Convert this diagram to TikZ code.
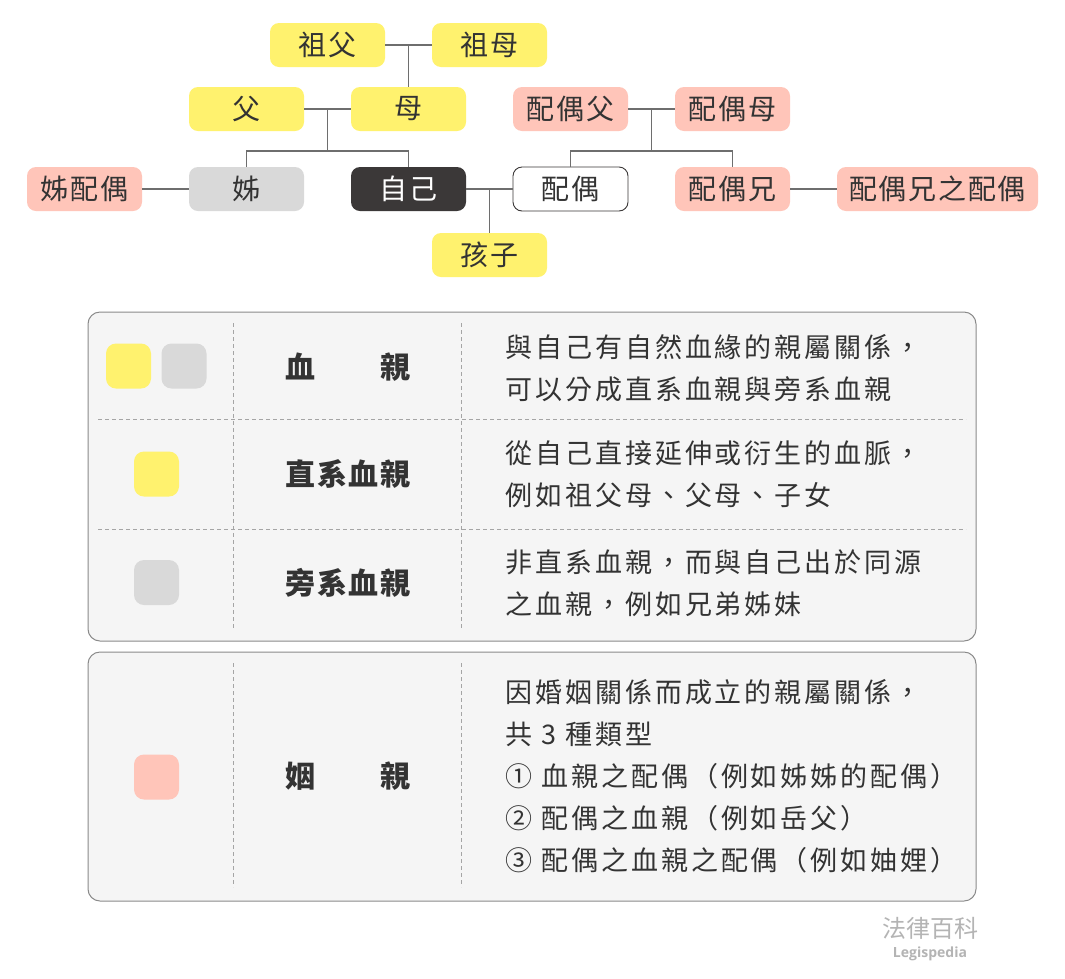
\documentclass[tikz,border=0pt]{standalone}
\usepackage{fontspec}
\usetikzlibrary{calc}
\setmainfont{Noto Sans CJK TC}
\newfontfamily\treefont[LetterSpace=6]{Noto Sans CJK TC}
\newfontfamily\descfont[LetterSpace=11]{Noto Sans CJK TC}
\newfontfamily\labfont[LetterSpace=6]{Noto Sans CJK TC}
\newfontfamily\logolat{Open Sans}
\definecolor{yelc}{HTML}{FFF26E}
\definecolor{salc}{HTML}{FFC5B9}
\definecolor{gryc}{HTML}{D9D9D9}
\definecolor{drkc}{HTML}{3B3838}
\definecolor{txtc}{HTML}{333333}
\definecolor{panelfill}{HTML}{F5F5F5}
\definecolor{panelline}{HTML}{8A8A8A}
\definecolor{dashc}{HTML}{A5A5A5}
\definecolor{connc}{HTML}{6E6E6E}
\definecolor{logoc}{HTML}{B4B4B4}
\tikzset{
  box/.style={rounded corners=9pt, minimum width=115pt, minimum height=44pt, inner sep=0pt,
    font=\treefont\fontsize{28}{28}\selectfont, text=txtc},
  yel/.style={box, fill=yelc},
  sal/.style={box, fill=salc},
  gry/.style={box, fill=gryc},
  drk/.style={box, fill=drkc, text=white},
  wht/.style={box, fill=white, draw=drkc, line width=0.9pt},
  conn/.style={draw=connc, line width=1.3pt},
  panel/.style={draw=panelline, fill=panelfill, line width=1pt, rounded corners=12pt},
  dl/.style={draw=dashc, line width=1pt, dash pattern=on 4pt off 3pt},
  sw/.style={minimum width=45pt, minimum height=45pt, inner sep=0pt, rounded corners=10pt},
  lab/.style={inner sep=0pt, text=txtc, font=\labfont\bfseries\fontsize{30}{30}\selectfont},
  desc/.style={anchor=west, inner sep=0pt, align=left, text=txtc, font=\descfont\fontsize{27}{42}\selectfont}
}
\begin{document}
\begin{tikzpicture}[x=1pt,y=-1pt]
\useasboundingbox (0,0) rectangle (1065,978);
\fill[white] (0,0) rectangle (1065,978);
% tree nodes
\node[yel] (gf) at (327.5,45) {祖父};
\node[yel] (gm) at (489.5,45) {祖母};
\node[yel] (fa) at (246.5,109) {父};
\node[yel] (mo) at (408.5,109) {母};
\node[sal] (sf) at (570.5,109) {配偶父};
\node[sal] (sm) at (732.5,109) {配偶母};
\node[sal] (ssp) at (84.5,189) {姊配偶};
\node[gry] (sis) at (246.5,189) {姊};
\node[drk] (me) at (408.5,189) {自己};
\node[wht] (sp) at (570.5,189) {配偶};
\node[sal] (sb) at (732.5,189) {配偶兄};
\node[sal, minimum width=201pt] (sbs) at (937.5,189) {配偶兄之配偶};
\node[yel] (ch) at (489.5,255) {孩子};
% junction coordinates
\coordinate (gj) at (408.5,45);
\coordinate (pj) at (327.5,109);
\coordinate (pbar) at (327.5,151);
\coordinate (sj) at (651.5,109);
\coordinate (sbar) at (651.5,151);
\coordinate (cj) at (489.5,189);
% connectors
\draw[conn] (gf.east) -- (gm.west);
\draw[conn] (gj) -- (mo.north);
\draw[conn] (fa.east) -- (mo.west);
\draw[conn] (pj) -- (pbar);
\draw[conn] (sis.north) |- (pbar) -| (me.north);
\draw[conn] (sf.east) -- (sm.west);
\draw[conn] (sj) -- (sbar);
\draw[conn] (sp.north) |- (sbar) -| (sb.north);
\draw[conn] (me.east) -- (sp.west);
\draw[conn] (cj) -- (ch.north);
\draw[conn] (ssp.east) -- (sis.west);
\draw[conn] (sb.east) -- (sbs.west);
% panel 1
\path[panel] (88,312) rectangle (976,641);
\draw[dl] (233,323) -- (233,628);
\draw[dl] (461,323) -- (461,628);
\draw[dl] (98,419) -- (966,419);
\draw[dl] (98,529) -- (966,529);
\node[sw, fill=yelc] (s1a) at (128.5,366) {};
\node[sw, fill=gryc] (s1b) at (184,366) {};
\node[sw, fill=yelc] (s2) at (156.5,474) {};
\node[sw, fill=gryc] (s3) at (156.5,582.5) {};
\node[lab] (l1) at (348,367) {血　　親};
\node[lab] (l2) at (348,474) {直系血親};
\node[lab] (l3) at (348,583) {旁系血親};
\node[desc] (d1) at (505,368) {與自己有自然血緣的親屬關係，\\可以分成直系血親與旁系血親};
\node[desc] (d2) at (505,474) {從自己直接延伸或衍生的血脈，\\例如祖父母、父母、子女};
\node[desc] (d3) at (505,583) {非直系血親，而與自己出於同源\\之血親，例如兄弟姊妹};
% panel 2
\path[panel] (88,652) rectangle (976,901);
\draw[dl] (233,663) -- (233,887);
\draw[dl] (461,663) -- (461,887);
\node[sw, fill=salc] (s4) at (156.5,777) {};
\node[lab] (l4) at (348,776) {姻　　親};
\node[desc] (d4) at (505,776) {因婚姻關係而成立的親屬關係，\\共 3 種類型\\① 血親之配偶（例如姊姊的配偶）\\② 配偶之血親（例如岳父）\\③ 配偶之血親之配偶（例如妯娌）};
% logo
\node[text=logoc, inner sep=0pt, font=\fontsize{24}{24}\selectfont] (logo1) at (930,928) {法律百科};
\node[text=logoc, inner sep=0pt, font=\logolat\bfseries\fontsize{14}{14}\selectfont] (logo2) at (930,954) {Legispedia};
\end{tikzpicture}
\end{document}
